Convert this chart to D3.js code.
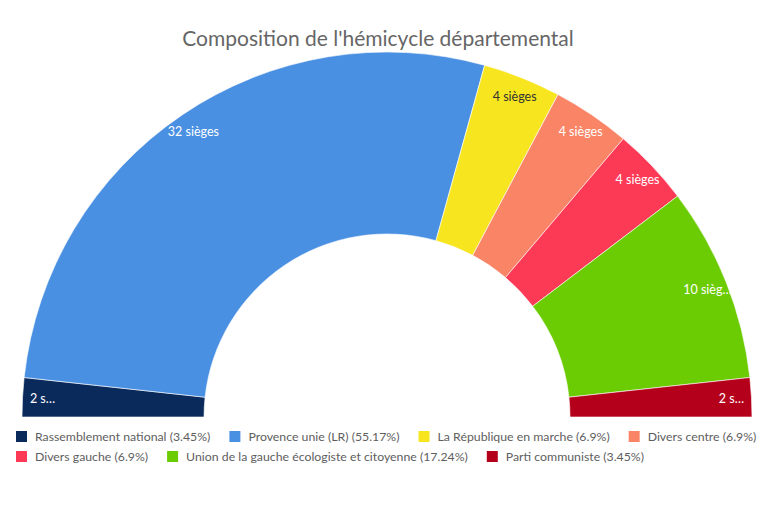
<!DOCTYPE html>
<head>
    <meta charset="utf-8">
    <style>
        body { margin: 0; background: #fff; }
        text { font-family: Lato, "Open Sans", sans-serif; }
    </style>
    <script src="https://d3js.org/d3.v7.min.js"></script>
</head>
<body>
    <div id="block"></div>
    <script>

        // parties, seats and colours
        var parties = ["Rassemblement national", "Provence unie (LR)", "La République en marche",
                       "Divers centre", "Divers gauche", "Union de la gauche écologiste et citoyenne",
                       "Parti communiste"];
        var seats = [2, 32, 4, 4, 4, 10, 2];
        var shares = ["3.45%", "55.17%", "6.9%", "6.9%", "6.9%", "17.24%", "3.45%"];
        var labels = ["2 s…", "32 sièges", "4 sièges", "4 sièges", "4 sièges", "10 sièg…", "2 s…"];
        var colors = ["#0a2a5c", "#4a90e2", "#f7e51f", "#fa8566", "#fc3a56", "#6ccc04", "#b5001c"];
        var labelColors = ["#fff", "#fff", "#333", "#fff", "#fff", "#fff", "#fff"];

        var w = 768,
            h = 512;

        var cx = 387, cy = 417,
            outerR = 365, innerR = 183;

        var svg = d3.select("#block")
                    .append("svg")
                    .attr("width", w)
                    .attr("height", h);

        svg.append("text")
           .attr("x", 378)
           .attr("y", 46)
           .attr("text-anchor", "middle")
           .style("font-size", "21px")
           .attr("fill", "#666")
           .text("Composition de l'hémicycle départemental");

        var data = parties.map(function(p, i) {
            return { name: p, seats: seats[i], share: shares[i], label: labels[i],
                     color: colors[i], labelColor: labelColors[i] };
        });

        // half donut, from left (-90deg) to right (+90deg)
        var pie = d3.pie()
                    .sort(null)
                    .value(function(d) { return d.seats; })
                    .startAngle(-Math.PI / 2)
                    .endAngle(Math.PI / 2);

        var arc = d3.arc()
                    .innerRadius(innerR)
                    .outerRadius(outerR);

        var labelArc = d3.arc()
                         .innerRadius(345)
                         .outerRadius(345);

        var g = svg.append("g")
                   .attr("transform", "translate(" + cx + "," + cy + ")");

        var slices = g.selectAll("g.slice")
                      .data(pie(data))
                      .enter()
                      .append("g")
                      .attr("class", "slice");

        slices.append("path")
              .attr("d", arc)
              .attr("fill", function(d) { return d.data.color; })
              .attr("stroke", "#fff")
              .attr("stroke-width", 0.6);

        slices.append("text")
              .attr("transform", function(d) {
                  var c = labelArc.centroid(d);
                  return "translate(" + c[0] + "," + c[1] + ")";
              })
              .attr("text-anchor", "middle")
              .attr("dy", "0.35em")
              .style("font-size", "12.5px")
              .attr("fill", function(d) { return d.data.labelColor; })
              .text(function(d) { return d.data.label; });

        // legend, flowing left to right and wrapping
        var legend = svg.append("g");
        var lx = 16, ly = 431, maxX = 766;

        data.forEach(function(d) {
            var item = legend.append("g");
            item.append("rect")
                .attr("width", 11)
                .attr("height", 11)
                .attr("fill", d.color);
            var t = item.append("text")
                .attr("x", 19)
                .attr("y", 10)
                .style("font-size", "12.3px")
                .attr("fill", "#5e5e5e")
                .text(d.name + " (" + d.share + ")");
            var iw = 19 + t.node().getComputedTextLength();
            if (lx + iw > maxX) {
                lx = 16;
                ly += 20;
            }
            item.attr("transform", "translate(" + lx + "," + ly + ")");
            lx += iw + 19;
        });

    </script>
</body>
